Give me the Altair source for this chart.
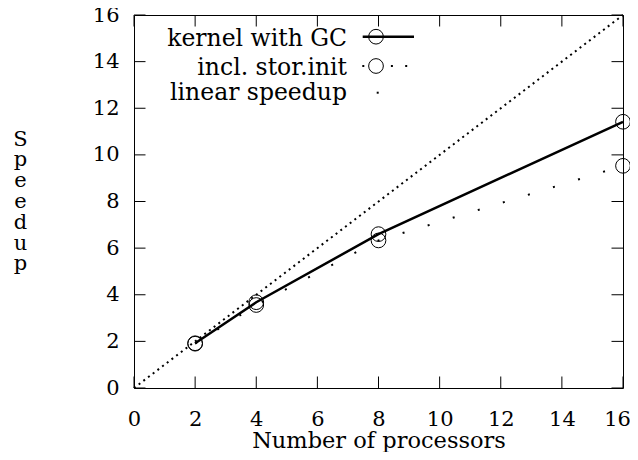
import altair as alt
import pandas as pd

# ---- data ----
procs = [2, 4, 8, 16]
kernel_gc = [1.92, 3.68, 6.6, 11.42]
stor_init = [1.9, 3.56, 6.33, 9.53]
linear_x = [0, 16]
linear_y = [0, 16]
tick_values = [0, 2, 4, 6, 8, 10, 12, 14, 16]
series_names = ["kernel with GC", "incl. stor.init", "linear speedup"]

FONT = "DejaVu Serif"
W, H = 489, 373
TL = 11.5  # tick length (inward)

df_k = pd.DataFrame({"p": procs, "s": kernel_gc})
df_s = pd.DataFrame({"p": procs, "s": stor_init})
df_l = pd.DataFrame({"p": linear_x, "s": linear_y})
df_t = pd.DataFrame({"p": tick_values, "s": tick_values})

xs = alt.Scale(domain=[0, 16], nice=False, zero=False)
ys = alt.Scale(domain=[0, 16], nice=False, zero=False)

xaxis = alt.Axis(
    values=tick_values, format="d", ticks=False, tickSize=0, domain=False, grid=False,
    labelFont=FONT, labelFontSize=21, labelColor="black", labelPadding=37,
    labelBaseline="alphabetic", labelFlush=False, labelOverlap=False, labelBound=False,
    labelOffset={"condition": {"test": "datum.value == 16", "value": -6}, "value": 0},
    title="Number of processors", titleFont=FONT, titleFontSize=22.5,
    titleFontWeight="normal", titleColor="black", titleY=59, titleBaseline="alphabetic",
)
yaxis = alt.Axis(
    values=tick_values, format="d", ticks=False, tickSize=0, domain=False, grid=False,
    labelFont=FONT, labelFontSize=21, labelColor="black", labelPadding=15,
    labelAlign="right", labelBaseline="middle", labelFlush=False, labelOverlap=False,
    title=["S", "p", "e", "e", "d", "u", "p"], titleFont=FONT, titleFontSize=21,
    titleFontWeight="normal", titleColor="black", titleAngle=0, titleX=-114,
    titleY=130, titleAlign="center", titleBaseline="alphabetic", titleLineHeight=20.8,
)

X = alt.X("p:Q", scale=xs, axis=xaxis)
Y = alt.Y("s:Q", scale=ys, axis=yaxis)

linear = alt.Chart(df_l).mark_line(
    color="black", strokeWidth=2, strokeDash=[2, 3.9], strokeCap="butt"
).encode(x=X, y=Y)

kernel_line = alt.Chart(df_k).mark_line(color="black", strokeWidth=2.5).encode(x=X, y=Y)
kernel_pts = alt.Chart(df_k).mark_point(
    shape="circle", size=216, filled=False, color="black", strokeWidth=1, opacity=1
).encode(x=X, y=Y)

stor_line = alt.Chart(df_s).mark_line(
    color="black", strokeWidth=2, strokeDash=[2, 24.2], strokeCap="butt"
).encode(x=X, y=Y)
stor_pts = alt.Chart(df_s).mark_point(
    shape="circle", size=216, filled=False, color="black", strokeWidth=1, opacity=1
).encode(x=X, y=Y)

# inward ticks on all four sides
tick_bottom = alt.Chart(df_t).mark_rule(color="black", strokeWidth=1).encode(
    x=X, y=alt.value(H), y2=alt.value(H - TL))
tick_top = alt.Chart(df_t).mark_rule(color="black", strokeWidth=1).encode(
    x=X, y=alt.value(0), y2=alt.value(TL))
tick_left = alt.Chart(df_t).mark_rule(color="black", strokeWidth=1).encode(
    y=Y, x=alt.value(0), x2=alt.value(TL))
tick_right = alt.Chart(df_t).mark_rule(color="black", strokeWidth=1).encode(
    y=Y, x=alt.value(W), x2=alt.value(W - TL))

# legend (gnuplot style: right-aligned text, sample on the right)
def leg_text(i, ypix):
    return alt.Chart(pd.DataFrame({"label": [series_names[i]]})).mark_text(
        align="right", baseline="alphabetic", font=FONT, fontSize=23.5, color="black"
    ).encode(x=alt.value(213), y=alt.value(ypix), text="label:N")

one = pd.DataFrame({"a": [0]})
r1y, r2y, r3y = 21.7, 51, 77.7
leg1_line = alt.Chart(one).mark_rule(color="black", strokeWidth=2.5).encode(
    x=alt.value(228.7), x2=alt.value(280), y=alt.value(r1y))
leg1_pt = alt.Chart(one).mark_point(
    shape="circle", size=216, filled=False, color="black", strokeWidth=1, opacity=1
).encode(x=alt.value(242), y=alt.value(r1y))
leg2_line = alt.Chart(one).mark_rule(
    color="black", strokeWidth=2, strokeDash=[2, 12.3], strokeCap="butt"
).encode(x=alt.value(228.3), x2=alt.value(274), y=alt.value(r2y))
leg2_pt = alt.Chart(one).mark_point(
    shape="circle", size=216, filled=True, fill="white", stroke="black",
    strokeWidth=1, opacity=1, fillOpacity=1
).encode(x=alt.value(242), y=alt.value(r2y))
leg3_dot = alt.Chart(one).mark_square(color="black", size=4, opacity=1).encode(
    x=alt.value(243.7), y=alt.value(r3y))

chart = alt.layer(
    linear, kernel_line, stor_line, kernel_pts, stor_pts,
    tick_bottom, tick_top, tick_left, tick_right,
    leg_text(0, 31), leg1_line, leg1_pt,
    leg_text(1, 59.5), leg2_line, leg2_pt,
    leg_text(2, 85), leg3_dot,
).properties(
    width=W, height=H,
    padding={"left": 126, "top": 7, "right": 7, "bottom": 64},
    autosize=alt.AutoSizeParams(type="none"),
    background="white",
).configure_view(stroke="black", strokeWidth=1)

chart.save("out.html", embed_options={"renderer": "svg", "actions": False})
